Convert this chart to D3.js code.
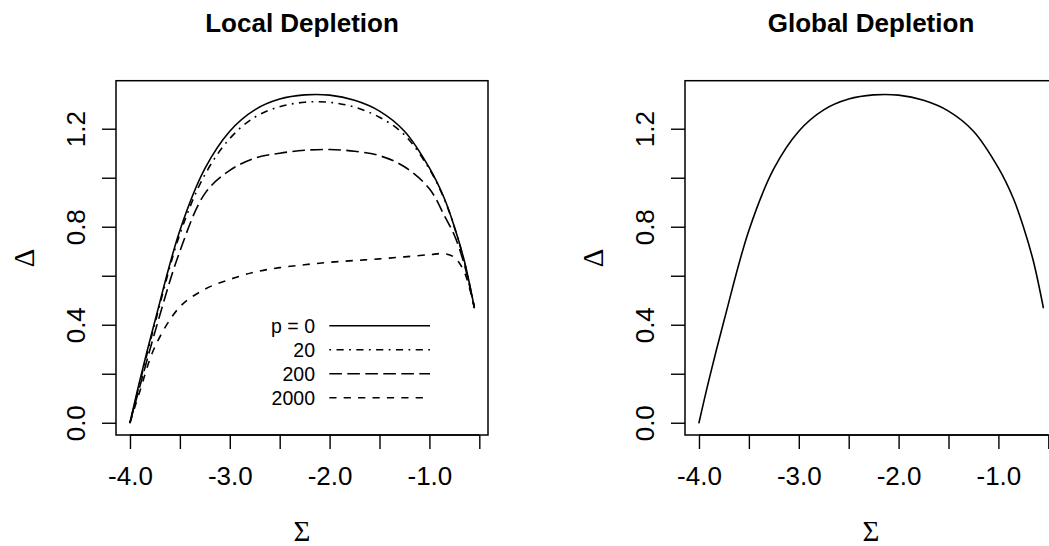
<!DOCTYPE html>
<html>
<head>
<meta charset="utf-8">
<script src="https://cdnjs.cloudflare.com/ajax/libs/d3/7.8.5/d3.min.js"></script>
<style>
  body { margin: 0; background: #fff; }
  svg { display: block; }
  .tick text { font-family: "Liberation Sans", Arial, sans-serif; }
</style>
</head>
<body>
<div id="chart"></div>
<script>
// sigma grid (x values) shared by all curves
const sigma = [-4.0, -3.9, -3.75, -3.5, -3.25, -3.0, -2.75, -2.5, -2.25, -2.0,
               -1.75, -1.5, -1.25, -1.0, -0.85, -0.75, -0.65, -0.55];

// Delta values, one array per p
const p0    = [0, 0.175, 0.415, 0.785, 1.037, 1.19, 1.277, 1.321, 1.338, 1.337,
               1.316, 1.272, 1.19, 1.04, 0.915, 0.80, 0.66, 0.47];
const p20   = [0, 0.165, 0.405, 0.77, 1.012, 1.16, 1.247, 1.29, 1.308, 1.308,
               1.288, 1.247, 1.175, 1.035, 0.912, 0.798, 0.658, 0.47];
const p200  = [0, 0.15, 0.37, 0.70, 0.935, 1.03, 1.08, 1.10, 1.112, 1.115,
               1.108, 1.09, 1.045, 0.955, 0.845, 0.765, 0.645, 0.47];
const p2000 = [0, 0.13, 0.31, 0.473, 0.545, 0.585, 0.615, 0.633, 0.645, 0.655,
               0.662, 0.669, 0.677, 0.686, 0.69, 0.675, 0.615, 0.47];

const legendLabels = ["p = 0", "20", "200", "2000"];
const xTicks = [-4.0, -3.5, -3.0, -2.5, -2.0, -1.5, -1.0, -0.5];
const xLabels = [-4.0, -3.0, -2.0, -1.0];
const yTicks = [0, 0.2, 0.4, 0.6, 0.8, 1.0, 1.2];
const yLabels = [0, 0.4, 0.8, 1.2];

// R line types (scaled)
const dashes = [null, "1.8,5.4,7.2,5.4", "12.6,5.4", "7.2,7.2"];

const W = 1049, H = 546;
const svg = d3.select("#chart").append("svg")
    .attr("width", W)
    .attr("height", H);

// plot box of one panel
const box = { left: 116, right: 488, top: 80.7, bottom: 435 };
const x = d3.scaleLinear().domain([-4.140, -0.413]).range([box.left, box.right]);
const y = d3.scaleLinear().domain([-0.050, 1.396]).range([box.bottom, box.top]);

const line = d3.line()
    .x(d => x(d[0]))
    .y(d => y(d[1]))
    .curve(d3.curveCatmullRom.alpha(0.5));

function drawPanel(offset, title, series) {
    const g = svg.append("g").attr("transform", `translate(${offset},0)`);

    // title
    g.append("text")
        .attr("x", (box.left + box.right) / 2)
        .attr("y", 32)
        .attr("text-anchor", "middle")
        .style("font-family", "'Liberation Sans', Arial, sans-serif")
        .style("font-weight", "bold")
        .style("font-size", "26px")
        .text(title);

    // x axis
    const xa = g.append("g")
        .attr("transform", `translate(0,${box.bottom})`)
        .call(d3.axisBottom(x).tickValues(xTicks).tickSize(14).tickSizeOuter(0)
            .tickFormat(d => xLabels.includes(d) ? d3.format(".1f")(d).replace("−", "-") : ""));
    xa.select(".domain").attr("d", `M${x(xTicks[0])},0H${x(xTicks[xTicks.length - 1])}`)
        .attr("stroke", "#000").attr("stroke-width", 1.4);
    xa.selectAll(".tick line").attr("stroke", "#000").attr("stroke-width", 1.4);
    xa.selectAll(".tick text")
        .attr("y", 50).attr("dy", 0)
        .attr("fill", "#000")
        .style("font-size", "26px");

    // y axis
    const ya = g.append("g")
        .attr("transform", `translate(${box.left},0)`)
        .call(d3.axisLeft(y).tickValues(yTicks).tickSize(14).tickSizeOuter(0)
            .tickFormat(d => yLabels.some(v => Math.abs(v - d) < 1e-9) ? d3.format(".1f")(d) : ""));
    ya.select(".domain").remove();
    ya.selectAll(".tick line").attr("stroke", "#000").attr("stroke-width", 1.4);
    ya.selectAll(".tick text")
        .attr("x", 0).attr("dy", 0)
        .attr("text-anchor", "middle")
        .attr("transform", "translate(-31,0) rotate(-90)")
        .attr("fill", "#000")
        .style("font-size", "26px");

    // axis titles
    g.append("text")
        .attr("x", (box.left + box.right) / 2)
        .attr("y", 541)
        .attr("text-anchor", "middle")
        .style("font-family", "'Liberation Serif', 'Times New Roman', serif")
        .style("font-size", "29px")
        .text("Σ");
    g.append("text")
        .attr("transform", `translate(34,${(box.top + box.bottom) / 2}) rotate(-90)`)
        .attr("text-anchor", "middle")
        .style("font-family", "'Liberation Serif', 'Times New Roman', serif")
        .style("font-size", "29px")
        .text("Δ");

    // curves
    series.forEach(s => {
        g.append("path")
            .datum(sigma.map((v, k) => [v, s.values[k]]))
            .attr("d", line)
            .attr("fill", "none")
            .attr("stroke", "#000")
            .attr("stroke-width", 1.6)
            .attr("stroke-dasharray", s.dash)
            .attr("stroke-linejoin", "round")
            .attr("stroke-linecap", s.dash ? "butt" : "round");
    });

    // box
    g.append("rect")
        .attr("x", box.left).attr("y", box.top)
        .attr("width", box.right - box.left).attr("height", box.bottom - box.top)
        .attr("fill", "none")
        .attr("stroke", "#000")
        .attr("stroke-width", 1.5);

    return g;
}

const local = drawPanel(0, "Local Depletion", [
    { values: p0, dash: dashes[0] },
    { values: p20, dash: dashes[1] },
    { values: p200, dash: dashes[2] },
    { values: p2000, dash: dashes[3] }
]);
drawPanel(569, "Global Depletion", [
    { values: p0, dash: dashes[0] }
]);

// legend (no box), text right-aligned before line samples
const legend = local.append("g");
legendLabels.forEach((lab, i) => {
    const ly = 325.7 + i * 24;
    legend.append("text")
        .attr("x", 315)
        .attr("y", ly)
        .attr("dy", "0.35em")
        .attr("text-anchor", "end")
        .style("font-family", "'Liberation Sans', Arial, sans-serif")
        .style("font-size", "19.5px")
        .text(lab);
    legend.append("line")
        .attr("x1", 329.3).attr("x2", 430)
        .attr("y1", ly).attr("y2", ly)
        .attr("stroke", "#000")
        .attr("stroke-width", 1.5)
        .attr("stroke-dasharray", dashes[i]);
});
</script>
</body>
</html>
